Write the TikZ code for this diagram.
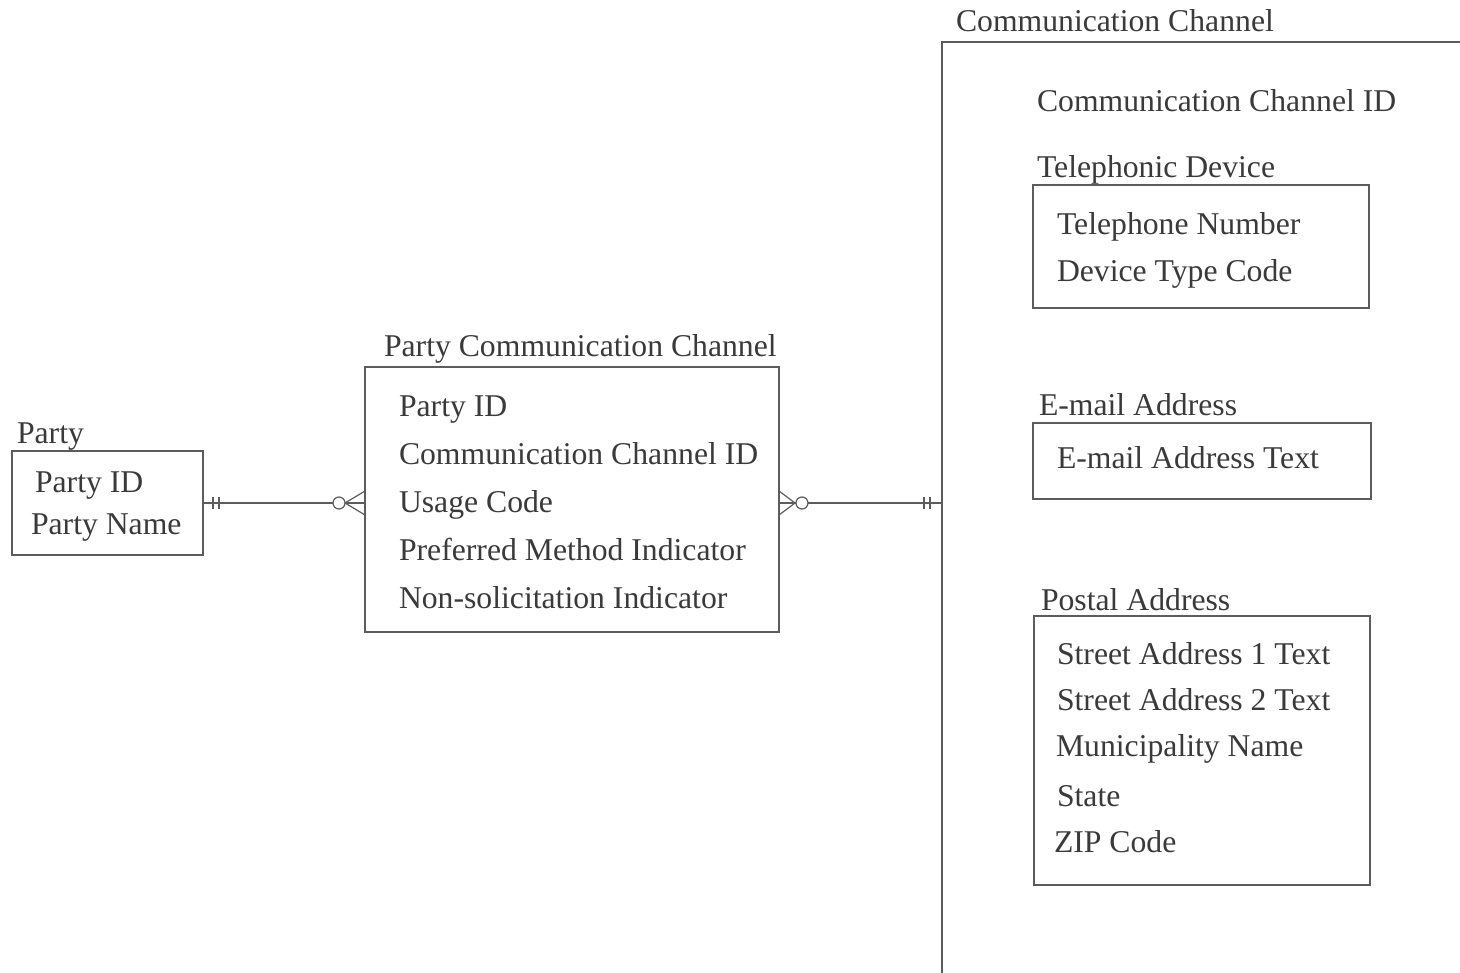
\documentclass[tikz,border=0pt]{standalone}
\usepackage{fontspec}
\setmainfont{Liberation Serif}
\usetikzlibrary{calc}
\definecolor{txt}{HTML}{3A3A3A}
\definecolor{ln}{HTML}{5C5C5C}
\begin{document}
\begin{tikzpicture}[x=1pt,y=-1pt,
  every node/.style={inner sep=0pt,outer sep=0pt},
  lbl/.style={anchor=base west,text=txt,font=\fontsize{31.7}{36}\selectfont,yshift=-10.5pt},
  box/.style={draw=ln,line width=1.6pt,anchor=north west,rectangle},
  conn/.style={draw=ln,line width=1.5pt}]
\useasboundingbox[fill=white] (0,0) rectangle (1460,973);
% Party
\node[box,minimum width=191pt,minimum height=104pt] (party) at (12,451) {};
\node[lbl] (partyT) at (17,433) {Party};
\node[lbl] (p1) at (35,482) {Party ID};
\node[lbl] (p2) at (31,524) {Party Name};
% Party Communication Channel
\node[box,minimum width=414pt,minimum height=265pt] (pcc) at (365,367) {};
\node[lbl] (pccT) at (384,346) {Party Communication Channel};
\node[lbl] (q1) at (399,406) {Party ID};
\node[lbl] (q2) at (399,454) {Communication Channel ID};
\node[lbl] (q3) at (399,502) {Usage Code};
\node[lbl] (q4) at (399,550) {Preferred Method Indicator};
\node[lbl] (q5) at (399,598) {Non-solicitation Indicator};
% Communication Channel
\node[box,minimum width=700pt,minimum height=1100pt] (cc) at (942,42) {};
\node[lbl] (ccT) at (956,21) {Communication Channel};
\node[lbl] (ccid) at (1037,101) {Communication Channel ID};
% Telephonic Device
\node[box,minimum width=336pt,minimum height=123pt] (tel) at (1033,185) {};
\node[lbl] (telT) at (1037,167) {Telephonic Device};
\node[lbl] (t1) at (1057,224) {Telephone Number};
\node[lbl] (t2) at (1057,271) {Device Type Code};
% E-mail
\node[box,minimum width=338pt,minimum height=76pt] (em) at (1033,423) {};
\node[lbl] (emT) at (1039,405) {E-mail Address};
\node[lbl] (e1) at (1057,458) {E-mail Address Text};
% Postal
\node[box,minimum width=336pt,minimum height=269pt] (po) at (1034,616) {};
\node[lbl] (poT) at (1041,600) {Postal Address};
\node[lbl] (a1) at (1057,654) {Street Address 1 Text};
\node[lbl] (a2) at (1057,700) {Street Address 2 Text};
\node[lbl] (a3) at (1056,746) {Municipality Name};
\node[lbl] (a4) at (1057,796) {State};
\node[lbl] (a5) at (1054,842) {ZIP Code};
% Connector 1: Party -> PCC
\coordinate (c1a) at (party.east);
\coordinate (c1b) at (pcc.west |- party.east);
\draw[conn] (c1a) -- (c1b);
\draw[conn,line width=1.2pt] ($(c1a)+(10,-6)$) -- ($(c1a)+(10,6)$)
  ($(c1a)+(16,-6)$) -- ($(c1a)+(16,6)$);
\draw[conn,line width=1.2pt] ($(c1b)+(-20,0)$) -- ($(c1b)+(0,-12)$)
  ($(c1b)+(-20,0)$) -- ($(c1b)+(0,12)$);
\draw[conn,line width=1.2pt,fill=white] ($(c1b)+(-26,0)$) circle (6);
% Connector 2: PCC -> Communication Channel
\coordinate (c2a) at (pcc.east |- party.east);
\coordinate (c2b) at (cc.west |- party.east);
\draw[conn] (c2a) -- (c2b);
\draw[conn,line width=1.2pt] ($(c2a)+(16,0)$) -- ($(c2a)+(0,-12)$)
  ($(c2a)+(16,0)$) -- ($(c2a)+(0,12)$);
\draw[conn,line width=1.2pt,fill=white] ($(c2a)+(23,0)$) circle (6);
\draw[conn,line width=1.2pt] ($(c2b)+(-18,-6)$) -- ($(c2b)+(-18,6)$)
  ($(c2b)+(-12,-6)$) -- ($(c2b)+(-12,6)$);
\end{tikzpicture}
\end{document}
